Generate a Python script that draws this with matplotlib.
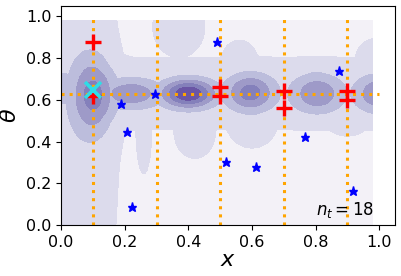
import numpy as np
import matplotlib
matplotlib.use("Agg")
import matplotlib.pyplot as plt

# --- sampled design ---
line_x = [0.1, 0.3, 0.5, 0.7, 0.9]
line_theta = 0.63

plus_x = [0.1, 0.1, 0.5, 0.5, 0.7, 0.7, 0.9, 0.9]
plus_y = [0.88, 0.617, 0.662, 0.619, 0.643, 0.562, 0.644, 0.601]

star_x = [0.295, 0.188, 0.207, 0.224, 0.49, 0.872, 0.766, 0.518, 0.612, 0.918]
star_y = [0.628, 0.580, 0.446, 0.085, 0.88, 0.740, 0.420, 0.301, 0.277, 0.162]

best_x, best_y = 0.1, 0.645
n_total = 18

# --- contour field: background bumps (max) + peaks along the band (max) ---
bg_amp = [1.5, 1.5, 1.4, 1.4, 1.4, 1.4, 1.4, 1.4, 1.4, 1.4]
bg_cx = [0.5, 0.03, 0.42, 0.6, 0.26, 0.9, 0.37, 0.56, 1.0, 0.8]
bg_cy = [0.63, 0.5, 0.45, 0.5, 0.45, 0.5, 0.95, 0.78, 0.8, 0.72]
bg_sx = [10.0, 0.17, 0.08, 0.1, 0.03, 0.08, 0.1, 0.07, 0.09, 0.08]
bg_sy = [0.19, 1.5, 0.16, 0.16, 0.25, 0.09, 0.18, 0.13, 0.12, 0.08]

pk_amp = [4.5, 2.3, 3.0, 0.9, 3.0, 2.4, 2.5]
pk_cx = [0.40, 0.22, 0.10, 0.00, 0.595, 0.805, 1.0]
pk_cy = [0.63, 0.63, 0.62, 0.655, 0.635, 0.63, 0.63]
pk_sx = [0.055, 0.065, 0.045, 0.05, 0.05, 0.053, 0.05]
pk_sy = [0.045, 0.048, 0.125, 0.07, 0.06, 0.062, 0.06]

levels = [0, 1, 2, 3, 4, 5, 8]
fill_colors = ['#f3f1f7', '#dcdbec', '#bcbddc', '#9e9ac8', '#8480bb', '#6a55a5']

gx = np.linspace(0, 0.98, 197)
gy = np.linspace(0, 0.98, 197)
X, Y = np.meshgrid(gx, gy)


def bump(a, cx, cy, sx, sy):
    return a * np.exp(-((X - cx) ** 2 / (2 * sx ** 2) + (Y - cy) ** 2 / (2 * sy ** 2)))


bg = np.max([bump(*p) for p in zip(bg_amp, bg_cx, bg_cy, bg_sx, bg_sy)], axis=0)
pk = np.max([bump(*p) for p in zip(pk_amp, pk_cx, pk_cy, pk_sx, pk_sy)], axis=0)
Z = bg + pk

fig = plt.figure(figsize=(4.02, 2.76), dpi=100)
ax = fig.add_axes([0.152, 0.185, 0.831, 0.793])

ax.contourf(X, Y, Z, levels=levels, colors=fill_colors, zorder=0)

for xv in line_x:
    ax.plot([xv, xv], [0, 1], ':', color='orange', lw=2.2, zorder=2)
ax.plot([0, 1], [line_theta, line_theta], ':', color='orange', lw=2.2, zorder=2)

ax.plot(star_x, star_y, '*', color='blue', ms=6.5, ls='none', zorder=3)
ax.plot(plus_x, plus_y, '+', color='red', ms=11, mew=2.4, ls='none', zorder=4)
ax.plot([best_x], [best_y], 'x', color='#30dde6', ms=11, mew=2.6, zorder=5)

ax.text(0.8, 0.05, r'$n_t=$' + str(n_total), fontsize=12)

ax.set_xlim(0, 1.05)
ax.set_ylim(0, 1.05)
ax.set_xticks([0, 0.2, 0.4, 0.6, 0.8, 1.0])
ax.set_yticks([0, 0.2, 0.4, 0.6, 0.8, 1.0])
ax.tick_params(labelsize=11.5)
ax.set_xlabel(r'$x$', fontsize=16, labelpad=0)
ax.set_ylabel(r'$\theta$', fontsize=16, labelpad=4)

fig.savefig('out.png', dpi=100)
